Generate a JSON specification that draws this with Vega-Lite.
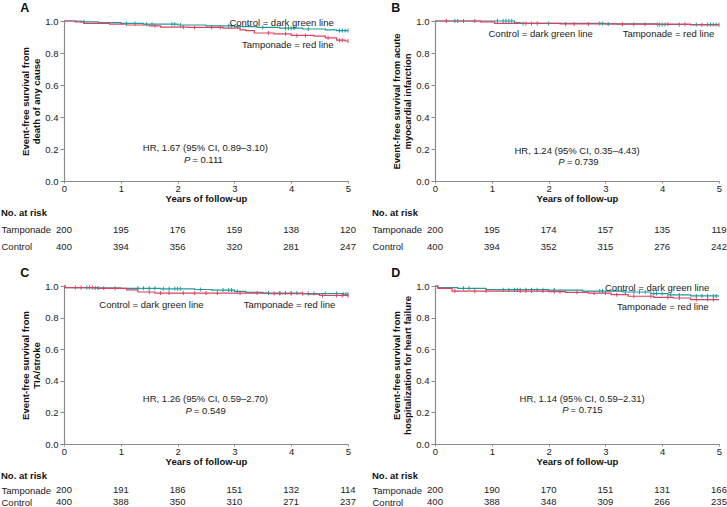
{
"$schema": "https://vega.github.io/schema/vega-lite/v6.json",
"padding": {"left": 1, "top": 2, "right": 0, "bottom": 0},
"columns": 2,
"align": "each",
"spacing": {"row": 4, "column": 16},
"config": {
 "font": "Liberation Sans",
 "view": {"stroke": null},
 "axis": {"grid": false, "domainColor": "#8a8a8a", "tickColor": "#8a8a8a", "labelColor": "#222", "labelFontSize": 9.5, "titleFontSize": 9.5, "titleFontWeight": "bold", "titleColor": "#111", "domainWidth": 1.2, "labelOverlap": false},
 "axisX": {"tickSize": 2, "labelPadding": 0.5, "titlePadding": 0, "labelFlush": false},
 "axisY": {"tickSize": 4, "labelPadding": 2, "titlePadding": 3, "titleLineHeight": 11.5},
 "title": {"anchor": "start", "frame": "bounds", "fontSize": 12.5, "fontWeight": "bold", "color": "#111", "offset": 1.5},
 "text": {"fontSize": 9.5, "color": "#222"}
},
"datasets": {
 "km": [
  {"panel":"A","group":"Control","time":0,"surv":1},{"panel":"A","group":"Control","time":0.3,"surv":0.995},{"panel":"A","group":"Control","time":0.6,"surv":0.99},{"panel":"A","group":"Control","time":1.0,"surv":0.985},{"panel":"A","group":"Control","time":1.4,"surv":0.98},{"panel":"A","group":"Control","time":2.0,"surv":0.975},{"panel":"A","group":"Control","time":2.5,"surv":0.97},{"panel":"A","group":"Control","time":3.0,"surv":0.965},{"panel":"A","group":"Control","time":3.4,"surv":0.96},{"panel":"A","group":"Control","time":3.8,"surv":0.955},{"panel":"A","group":"Control","time":4.2,"surv":0.95},{"panel":"A","group":"Control","time":4.6,"surv":0.945},{"panel":"A","group":"Control","time":4.8,"surv":0.94},{"panel":"A","group":"Control","time":5,"surv":0.94},
  {"panel":"A","group":"Tamponade","time":0,"surv":1},{"panel":"A","group":"Tamponade","time":0.2,"surv":0.995},{"panel":"A","group":"Tamponade","time":0.35,"surv":0.985},{"panel":"A","group":"Tamponade","time":0.8,"surv":0.98},{"panel":"A","group":"Tamponade","time":1.1,"surv":0.975},{"panel":"A","group":"Tamponade","time":1.5,"surv":0.97},{"panel":"A","group":"Tamponade","time":1.7,"surv":0.962},{"panel":"A","group":"Tamponade","time":2.2,"surv":0.96},{"panel":"A","group":"Tamponade","time":2.8,"surv":0.955},{"panel":"A","group":"Tamponade","time":3.1,"surv":0.945},{"panel":"A","group":"Tamponade","time":3.2,"surv":0.94},{"panel":"A","group":"Tamponade","time":3.35,"surv":0.925},{"panel":"A","group":"Tamponade","time":3.7,"surv":0.92},{"panel":"A","group":"Tamponade","time":4.0,"surv":0.91},{"panel":"A","group":"Tamponade","time":4.4,"surv":0.905},{"panel":"A","group":"Tamponade","time":4.6,"surv":0.895},{"panel":"A","group":"Tamponade","time":4.8,"surv":0.88},{"panel":"A","group":"Tamponade","time":4.95,"surv":0.875},{"panel":"A","group":"Tamponade","time":5,"surv":0.875},
  {"panel":"B","group":"Control","time":0,"surv":1},{"panel":"B","group":"Control","time":1.4,"surv":0.99},{"panel":"B","group":"Control","time":1.5,"surv":0.985},{"panel":"B","group":"Control","time":3.0,"surv":0.982},{"panel":"B","group":"Control","time":3.9,"surv":0.978},{"panel":"B","group":"Control","time":5,"surv":0.978},
  {"panel":"B","group":"Tamponade","time":0,"surv":1},{"panel":"B","group":"Tamponade","time":0.8,"surv":0.995},{"panel":"B","group":"Tamponade","time":1.05,"surv":0.985},{"panel":"B","group":"Tamponade","time":2.2,"surv":0.982},{"panel":"B","group":"Tamponade","time":3.2,"surv":0.98},{"panel":"B","group":"Tamponade","time":4.5,"surv":0.976},{"panel":"B","group":"Tamponade","time":5,"surv":0.976},
  {"panel":"C","group":"Control","time":0,"surv":1},{"panel":"C","group":"Control","time":0.02,"surv":0.99},{"panel":"C","group":"Control","time":0.5,"surv":0.988},{"panel":"C","group":"Control","time":1.0,"surv":0.985},{"panel":"C","group":"Control","time":1.7,"surv":0.982},{"panel":"C","group":"Control","time":2.3,"surv":0.978},{"panel":"C","group":"Control","time":2.6,"surv":0.974},{"panel":"C","group":"Control","time":3.0,"surv":0.966},{"panel":"C","group":"Control","time":3.2,"surv":0.96},{"panel":"C","group":"Control","time":3.5,"surv":0.955},{"panel":"C","group":"Control","time":4.2,"surv":0.952},{"panel":"C","group":"Control","time":4.9,"surv":0.948},{"panel":"C","group":"Control","time":5,"surv":0.948},
  {"panel":"C","group":"Tamponade","time":0,"surv":1},{"panel":"C","group":"Tamponade","time":0.02,"surv":0.99},{"panel":"C","group":"Tamponade","time":0.6,"surv":0.985},{"panel":"C","group":"Tamponade","time":1.1,"surv":0.975},{"panel":"C","group":"Tamponade","time":1.3,"surv":0.962},{"panel":"C","group":"Tamponade","time":1.6,"surv":0.955},{"panel":"C","group":"Tamponade","time":3.6,"surv":0.952},{"panel":"C","group":"Tamponade","time":4.3,"surv":0.948},{"panel":"C","group":"Tamponade","time":4.5,"surv":0.94},{"panel":"C","group":"Tamponade","time":5,"surv":0.94},
  {"panel":"D","group":"Control","time":0,"surv":1},{"panel":"D","group":"Control","time":0.05,"surv":0.99},{"panel":"D","group":"Control","time":0.4,"surv":0.985},{"panel":"D","group":"Control","time":0.9,"surv":0.977},{"panel":"D","group":"Control","time":2.0,"surv":0.974},{"panel":"D","group":"Control","time":2.6,"surv":0.968},{"panel":"D","group":"Control","time":3.3,"surv":0.962},{"panel":"D","group":"Control","time":3.8,"surv":0.952},{"panel":"D","group":"Control","time":4.1,"surv":0.944},{"panel":"D","group":"Control","time":4.5,"surv":0.937},{"panel":"D","group":"Control","time":5,"surv":0.937},
  {"panel":"D","group":"Tamponade","time":0,"surv":1},{"panel":"D","group":"Tamponade","time":0.05,"surv":0.985},{"panel":"D","group":"Tamponade","time":0.3,"surv":0.968},{"panel":"D","group":"Tamponade","time":2.0,"surv":0.964},{"panel":"D","group":"Tamponade","time":2.3,"surv":0.96},{"panel":"D","group":"Tamponade","time":2.7,"surv":0.955},{"panel":"D","group":"Tamponade","time":3.1,"surv":0.945},{"panel":"D","group":"Tamponade","time":3.4,"surv":0.935},{"panel":"D","group":"Tamponade","time":3.85,"surv":0.928},{"panel":"D","group":"Tamponade","time":4.2,"surv":0.924},{"panel":"D","group":"Tamponade","time":4.5,"surv":0.914},{"panel":"D","group":"Tamponade","time":5,"surv":0.914}
 ],
 "cens": [
  {"panel":"A","group":"Control","time":0.35,"surv":0.995},{"panel":"A","group":"Control","time":1.1,"surv":0.985},{"panel":"A","group":"Control","time":1.25,"surv":0.985},{"panel":"A","group":"Control","time":1.45,"surv":0.98},{"panel":"A","group":"Control","time":1.55,"surv":0.98},{"panel":"A","group":"Control","time":1.9,"surv":0.98},{"panel":"A","group":"Control","time":1.95,"surv":0.98},{"panel":"A","group":"Control","time":2.05,"surv":0.975},{"panel":"A","group":"Control","time":2.9,"surv":0.97},{"panel":"A","group":"Control","time":2.95,"surv":0.97},{"panel":"A","group":"Control","time":3.05,"surv":0.965},{"panel":"A","group":"Control","time":3.5,"surv":0.96},{"panel":"A","group":"Control","time":3.9,"surv":0.955},{"panel":"A","group":"Control","time":3.95,"surv":0.955},{"panel":"A","group":"Control","time":4.0,"surv":0.955},{"panel":"A","group":"Control","time":4.05,"surv":0.955},{"panel":"A","group":"Control","time":4.3,"surv":0.95},{"panel":"A","group":"Control","time":4.85,"surv":0.94},{"panel":"A","group":"Control","time":4.9,"surv":0.94},{"panel":"A","group":"Control","time":4.95,"surv":0.94},{"panel":"A","group":"Control","time":5.0,"surv":0.94},
  {"panel":"A","group":"Tamponade","time":1.6,"surv":0.97},{"panel":"A","group":"Tamponade","time":2.1,"surv":0.962},{"panel":"A","group":"Tamponade","time":2.3,"surv":0.96},{"panel":"A","group":"Tamponade","time":2.6,"surv":0.96},{"panel":"A","group":"Tamponade","time":2.75,"surv":0.96},{"panel":"A","group":"Tamponade","time":3.6,"surv":0.925},{"panel":"A","group":"Tamponade","time":3.9,"surv":0.92},{"panel":"A","group":"Tamponade","time":4.1,"surv":0.91},{"panel":"A","group":"Tamponade","time":4.25,"surv":0.91},{"panel":"A","group":"Tamponade","time":4.65,"surv":0.895},{"panel":"A","group":"Tamponade","time":4.85,"surv":0.88},{"panel":"A","group":"Tamponade","time":4.9,"surv":0.88},{"panel":"A","group":"Tamponade","time":5.0,"surv":0.875},
  {"panel":"B","group":"Control","time":0.35,"surv":1},{"panel":"B","group":"Control","time":0.4,"surv":1},{"panel":"B","group":"Control","time":1.1,"surv":1},{"panel":"B","group":"Control","time":1.2,"surv":1},{"panel":"B","group":"Control","time":1.25,"surv":1},{"panel":"B","group":"Control","time":1.3,"surv":1},{"panel":"B","group":"Control","time":1.35,"surv":1},{"panel":"B","group":"Control","time":1.55,"surv":0.985},{"panel":"B","group":"Control","time":1.7,"surv":0.985},{"panel":"B","group":"Control","time":2.0,"surv":0.985},{"panel":"B","group":"Control","time":2.9,"surv":0.985},{"panel":"B","group":"Control","time":2.95,"surv":0.985},{"panel":"B","group":"Control","time":3.05,"surv":0.982},{"panel":"B","group":"Control","time":3.92,"surv":0.978},{"panel":"B","group":"Control","time":3.95,"surv":0.978},{"panel":"B","group":"Control","time":4.0,"surv":0.978},{"panel":"B","group":"Control","time":4.05,"surv":0.978},{"panel":"B","group":"Control","time":4.3,"surv":0.978},{"panel":"B","group":"Control","time":4.6,"surv":0.978},{"panel":"B","group":"Control","time":4.8,"surv":0.978},{"panel":"B","group":"Control","time":4.85,"surv":0.978},{"panel":"B","group":"Control","time":4.9,"surv":0.978},{"panel":"B","group":"Control","time":4.95,"surv":0.978},
  {"panel":"B","group":"Tamponade","time":0.2,"surv":1},{"panel":"B","group":"Tamponade","time":0.5,"surv":1},{"panel":"B","group":"Tamponade","time":0.7,"surv":1},{"panel":"B","group":"Tamponade","time":1.6,"surv":0.985},{"panel":"B","group":"Tamponade","time":1.8,"surv":0.985},{"panel":"B","group":"Tamponade","time":2.3,"surv":0.982},{"panel":"B","group":"Tamponade","time":2.45,"surv":0.982},{"panel":"B","group":"Tamponade","time":2.7,"surv":0.982},{"panel":"B","group":"Tamponade","time":3.3,"surv":0.98},{"panel":"B","group":"Tamponade","time":3.5,"surv":0.98},{"panel":"B","group":"Tamponade","time":3.7,"surv":0.98},{"panel":"B","group":"Tamponade","time":4.1,"surv":0.98},{"panel":"B","group":"Tamponade","time":4.4,"surv":0.98},{"panel":"B","group":"Tamponade","time":4.7,"surv":0.976},{"panel":"B","group":"Tamponade","time":5.0,"surv":0.976},
  {"panel":"C","group":"Control","time":0.4,"surv":0.99},{"panel":"C","group":"Control","time":0.45,"surv":0.99},{"panel":"C","group":"Control","time":0.55,"surv":0.988},{"panel":"C","group":"Control","time":0.6,"surv":0.988},{"panel":"C","group":"Control","time":1.3,"surv":0.985},{"panel":"C","group":"Control","time":1.4,"surv":0.985},{"panel":"C","group":"Control","time":1.5,"surv":0.985},{"panel":"C","group":"Control","time":1.6,"surv":0.985},{"panel":"C","group":"Control","time":1.75,"surv":0.982},{"panel":"C","group":"Control","time":1.85,"surv":0.982},{"panel":"C","group":"Control","time":1.95,"surv":0.982},{"panel":"C","group":"Control","time":2.0,"surv":0.982},{"panel":"C","group":"Control","time":2.05,"surv":0.982},{"panel":"C","group":"Control","time":2.4,"surv":0.978},{"panel":"C","group":"Control","time":2.8,"surv":0.974},{"panel":"C","group":"Control","time":2.9,"surv":0.974},{"panel":"C","group":"Control","time":2.95,"surv":0.974},{"panel":"C","group":"Control","time":3.05,"surv":0.966},{"panel":"C","group":"Control","time":3.6,"surv":0.955},{"panel":"C","group":"Control","time":3.8,"surv":0.955},{"panel":"C","group":"Control","time":3.9,"surv":0.955},{"panel":"C","group":"Control","time":4.0,"surv":0.955},{"panel":"C","group":"Control","time":4.1,"surv":0.955},{"panel":"C","group":"Control","time":4.3,"surv":0.952},{"panel":"C","group":"Control","time":4.4,"surv":0.952},{"panel":"C","group":"Control","time":4.6,"surv":0.952},{"panel":"C","group":"Control","time":4.8,"surv":0.952},{"panel":"C","group":"Control","time":4.92,"surv":0.948},{"panel":"C","group":"Control","time":4.96,"surv":0.948},{"panel":"C","group":"Control","time":5.0,"surv":0.948},
  {"panel":"C","group":"Tamponade","time":0.2,"surv":0.99},{"panel":"C","group":"Tamponade","time":0.3,"surv":0.99},{"panel":"C","group":"Tamponade","time":0.5,"surv":0.99},{"panel":"C","group":"Tamponade","time":0.7,"surv":0.985},{"panel":"C","group":"Tamponade","time":0.9,"surv":0.985},{"panel":"C","group":"Tamponade","time":1.5,"surv":0.962},{"panel":"C","group":"Tamponade","time":1.7,"surv":0.955},{"panel":"C","group":"Tamponade","time":1.85,"surv":0.955},{"panel":"C","group":"Tamponade","time":2.1,"surv":0.955},{"panel":"C","group":"Tamponade","time":2.3,"surv":0.955},{"panel":"C","group":"Tamponade","time":2.5,"surv":0.955},{"panel":"C","group":"Tamponade","time":2.7,"surv":0.955},{"panel":"C","group":"Tamponade","time":3.1,"surv":0.955},{"panel":"C","group":"Tamponade","time":3.4,"surv":0.955},{"panel":"C","group":"Tamponade","time":3.7,"surv":0.952},{"panel":"C","group":"Tamponade","time":3.8,"surv":0.952},{"panel":"C","group":"Tamponade","time":4.0,"surv":0.952},{"panel":"C","group":"Tamponade","time":4.2,"surv":0.952},{"panel":"C","group":"Tamponade","time":4.55,"surv":0.94},{"panel":"C","group":"Tamponade","time":4.8,"surv":0.94},{"panel":"C","group":"Tamponade","time":4.9,"surv":0.94},{"panel":"C","group":"Tamponade","time":5.0,"surv":0.94},
  {"panel":"D","group":"Control","time":0.5,"surv":0.985},{"panel":"D","group":"Control","time":0.6,"surv":0.985},{"panel":"D","group":"Control","time":1.2,"surv":0.977},{"panel":"D","group":"Control","time":1.3,"surv":0.977},{"panel":"D","group":"Control","time":1.4,"surv":0.977},{"panel":"D","group":"Control","time":1.45,"surv":0.977},{"panel":"D","group":"Control","time":1.5,"surv":0.977},{"panel":"D","group":"Control","time":1.6,"surv":0.977},{"panel":"D","group":"Control","time":1.7,"surv":0.977},{"panel":"D","group":"Control","time":1.8,"surv":0.977},{"panel":"D","group":"Control","time":1.9,"surv":0.977},{"panel":"D","group":"Control","time":2.1,"surv":0.974},{"panel":"D","group":"Control","time":2.9,"surv":0.968},{"panel":"D","group":"Control","time":2.95,"surv":0.968},{"panel":"D","group":"Control","time":3.35,"surv":0.962},{"panel":"D","group":"Control","time":3.5,"surv":0.962},{"panel":"D","group":"Control","time":3.6,"surv":0.962},{"panel":"D","group":"Control","time":3.7,"surv":0.962},{"panel":"D","group":"Control","time":3.85,"surv":0.952},{"panel":"D","group":"Control","time":3.9,"surv":0.952},{"panel":"D","group":"Control","time":4.0,"surv":0.952},{"panel":"D","group":"Control","time":4.15,"surv":0.944},{"panel":"D","group":"Control","time":4.3,"surv":0.944},{"panel":"D","group":"Control","time":4.6,"surv":0.937},{"panel":"D","group":"Control","time":4.7,"surv":0.937},{"panel":"D","group":"Control","time":4.8,"surv":0.937},{"panel":"D","group":"Control","time":4.9,"surv":0.937},{"panel":"D","group":"Control","time":4.95,"surv":0.937},
  {"panel":"D","group":"Tamponade","time":0.35,"surv":0.968},{"panel":"D","group":"Tamponade","time":0.7,"surv":0.968},{"panel":"D","group":"Tamponade","time":0.9,"surv":0.968},{"panel":"D","group":"Tamponade","time":1.5,"surv":0.968},{"panel":"D","group":"Tamponade","time":1.6,"surv":0.968},{"panel":"D","group":"Tamponade","time":1.7,"surv":0.968},{"panel":"D","group":"Tamponade","time":1.9,"surv":0.968},{"panel":"D","group":"Tamponade","time":2.1,"surv":0.964},{"panel":"D","group":"Tamponade","time":2.2,"surv":0.964},{"panel":"D","group":"Tamponade","time":2.5,"surv":0.96},{"panel":"D","group":"Tamponade","time":2.8,"surv":0.955},{"panel":"D","group":"Tamponade","time":3.0,"surv":0.955},{"panel":"D","group":"Tamponade","time":3.2,"surv":0.945},{"panel":"D","group":"Tamponade","time":3.5,"surv":0.935},{"panel":"D","group":"Tamponade","time":3.8,"surv":0.935},{"panel":"D","group":"Tamponade","time":4.1,"surv":0.928},{"panel":"D","group":"Tamponade","time":4.3,"surv":0.924},{"panel":"D","group":"Tamponade","time":4.6,"surv":0.914},{"panel":"D","group":"Tamponade","time":4.8,"surv":0.914},{"panel":"D","group":"Tamponade","time":4.9,"surv":0.914}
 ],
 "notes": [
  {"panel":"A","time":3.83,"surv":0.99,"text":"Control = dark green line"},{"panel":"A","time":3.94,"surv":0.849,"text":"Tamponade = red line"},{"panel":"A","time":2.49,"surv":0.205,"text":"HR, 1.67 (95% CI, 0.89–3.10)"},
  {"panel":"B","time":1.86,"surv":0.92,"text":"Control = dark green line"},{"panel":"B","time":4.11,"surv":0.92,"text":"Tamponade = red line"},{"panel":"B","time":2.5,"surv":0.188,"text":"HR, 1.24 (95% CI, 0.35–4.43)"},
  {"panel":"C","time":1.54,"surv":0.88,"text":"Control = dark green line"},{"panel":"C","time":3.97,"surv":0.88,"text":"Tamponade = red line"},{"panel":"C","time":2.49,"surv":0.284,"text":"HR, 1.26 (95% CI, 0.59–2.70)"},
  {"panel":"D","time":3.91,"surv":0.99,"text":"Control = dark green line"},{"panel":"D","time":4.01,"surv":0.869,"text":"Tamponade = red line"},{"panel":"D","time":2.59,"surv":0.284,"text":"HR, 1.14 (95% CI, 0.59–2.31)"}
 ],
 "pv": [
  {"panel":"A","time":2.24,"surv":0.132,"text":"= 0.111"},{"panel":"B","time":2.30,"surv":0.119,"text":"= 0.739"},{"panel":"C","time":2.27,"surv":0.208,"text":"= 0.549"},{"panel":"D","time":2.37,"surv":0.215,"text":"= 0.715"}
 ],
 "risk": [
  {"panel":"A","group":"Tamponade","time":0,"n":200},{"panel":"A","group":"Tamponade","time":1,"n":195},{"panel":"A","group":"Tamponade","time":2,"n":176},{"panel":"A","group":"Tamponade","time":3,"n":159},{"panel":"A","group":"Tamponade","time":4,"n":138},{"panel":"A","group":"Tamponade","time":5,"n":120},
  {"panel":"A","group":"Control","time":0,"n":400},{"panel":"A","group":"Control","time":1,"n":394},{"panel":"A","group":"Control","time":2,"n":356},{"panel":"A","group":"Control","time":3,"n":320},{"panel":"A","group":"Control","time":4,"n":281},{"panel":"A","group":"Control","time":5,"n":247},
  {"panel":"B","group":"Tamponade","time":0,"n":200},{"panel":"B","group":"Tamponade","time":1,"n":195},{"panel":"B","group":"Tamponade","time":2,"n":174},{"panel":"B","group":"Tamponade","time":3,"n":157},{"panel":"B","group":"Tamponade","time":4,"n":135},{"panel":"B","group":"Tamponade","time":5,"n":119},
  {"panel":"B","group":"Control","time":0,"n":400},{"panel":"B","group":"Control","time":1,"n":394},{"panel":"B","group":"Control","time":2,"n":352},{"panel":"B","group":"Control","time":3,"n":315},{"panel":"B","group":"Control","time":4,"n":276},{"panel":"B","group":"Control","time":5,"n":242},
  {"panel":"C","group":"Tamponade","time":0,"n":200},{"panel":"C","group":"Tamponade","time":1,"n":191},{"panel":"C","group":"Tamponade","time":2,"n":186},{"panel":"C","group":"Tamponade","time":3,"n":151},{"panel":"C","group":"Tamponade","time":4,"n":132},{"panel":"C","group":"Tamponade","time":5,"n":114},
  {"panel":"C","group":"Control","time":0,"n":400},{"panel":"C","group":"Control","time":1,"n":388},{"panel":"C","group":"Control","time":2,"n":350},{"panel":"C","group":"Control","time":3,"n":310},{"panel":"C","group":"Control","time":4,"n":271},{"panel":"C","group":"Control","time":5,"n":237},
  {"panel":"D","group":"Tamponade","time":0,"n":200},{"panel":"D","group":"Tamponade","time":1,"n":190},{"panel":"D","group":"Tamponade","time":2,"n":170},{"panel":"D","group":"Tamponade","time":3,"n":151},{"panel":"D","group":"Tamponade","time":4,"n":131},{"panel":"D","group":"Tamponade","time":5,"n":166},
  {"panel":"D","group":"Control","time":0,"n":400},{"panel":"D","group":"Control","time":1,"n":388},{"panel":"D","group":"Control","time":2,"n":348},{"panel":"D","group":"Control","time":3,"n":309},{"panel":"D","group":"Control","time":4,"n":266},{"panel":"D","group":"Control","time":5,"n":235}
 ]
},
"concat": [
 {"title": {"text": "A"}, "width": 284, "height": 160,
  "layer": [
   {"data": {"name": "km"}, "transform": [{"filter": "datum.panel === 'A'"}], "mark": {"type": "line", "interpolate": "step-after", "strokeWidth": 1.2},
    "encoding": {"x": {"field": "time", "type": "quantitative", "scale": {"domain": [0, 5]}, "axis": {"values": [0,1,2,3,4,5], "tickCount": 10, "format": "d", "title": "Years of follow-up", "labelOverlap": false}},
     "y": {"field": "surv", "type": "quantitative", "scale": {"domain": [0, 1]}, "axis": {"values": [0,0.2,0.4,0.6,0.8,1], "tickCount": 10, "format": ".1f", "labelOverlap": false, "title": ["Event-free survival from", "death of any cause"]}},
     "color": {"field": "group", "type": "nominal", "scale": {"domain": ["Control", "Tamponade"], "range": ["#1f9b9b", "#e0405f"]}, "legend": null}}},
   {"data": {"name": "cens"}, "transform": [{"filter": "datum.panel === 'A'"}], "mark": {"type": "tick", "orient": "vertical", "size": 4, "thickness": 1, "opacity": 1},
    "encoding": {"x": {"field": "time", "type": "quantitative"}, "y": {"field": "surv", "type": "quantitative"}, "color": {"field": "group", "type": "nominal"}}},
   {"data": {"name": "notes"}, "transform": [{"filter": "datum.panel === 'A'"}], "mark": {"type": "text"},
    "encoding": {"x": {"field": "time", "type": "quantitative"}, "y": {"field": "surv", "type": "quantitative"}, "text": {"field": "text"}}},
   {"data": {"name": "pv"}, "transform": [{"filter": "datum.panel === 'A'"}], "mark": {"type": "text", "text": "P", "fontStyle": "italic", "align": "right", "dx": -1},
    "encoding": {"x": {"field": "time", "type": "quantitative"}, "y": {"field": "surv", "type": "quantitative"}}},
   {"data": {"name": "pv"}, "transform": [{"filter": "datum.panel === 'A'"}], "mark": {"type": "text", "align": "left", "dx": 1},
    "encoding": {"x": {"field": "time", "type": "quantitative"}, "y": {"field": "surv", "type": "quantitative"}, "text": {"field": "text"}}}
  ]},
 {"title": {"text": "B"}, "width": 284, "height": 160,
  "layer": [
   {"data": {"name": "km"}, "transform": [{"filter": "datum.panel === 'B'"}], "mark": {"type": "line", "interpolate": "step-after", "strokeWidth": 1.2},
    "encoding": {"x": {"field": "time", "type": "quantitative", "scale": {"domain": [0, 5]}, "axis": {"values": [0,1,2,3,4,5], "tickCount": 10, "format": "d", "title": "Years of follow-up", "labelOverlap": false}},
     "y": {"field": "surv", "type": "quantitative", "scale": {"domain": [0, 1]}, "axis": {"values": [0,0.2,0.4,0.6,0.8,1], "tickCount": 10, "format": ".1f", "labelOverlap": false, "title": ["Event-free survival from acute", "myocardial infarction"]}},
     "color": {"field": "group", "type": "nominal", "scale": {"domain": ["Control", "Tamponade"], "range": ["#1f9b9b", "#e0405f"]}, "legend": null}}},
   {"data": {"name": "cens"}, "transform": [{"filter": "datum.panel === 'B'"}], "mark": {"type": "tick", "orient": "vertical", "size": 4, "thickness": 1, "opacity": 1},
    "encoding": {"x": {"field": "time", "type": "quantitative"}, "y": {"field": "surv", "type": "quantitative"}, "color": {"field": "group", "type": "nominal"}}},
   {"data": {"name": "notes"}, "transform": [{"filter": "datum.panel === 'B'"}], "mark": {"type": "text"},
    "encoding": {"x": {"field": "time", "type": "quantitative"}, "y": {"field": "surv", "type": "quantitative"}, "text": {"field": "text"}}},
   {"data": {"name": "pv"}, "transform": [{"filter": "datum.panel === 'B'"}], "mark": {"type": "text", "text": "P", "fontStyle": "italic", "align": "right", "dx": -1},
    "encoding": {"x": {"field": "time", "type": "quantitative"}, "y": {"field": "surv", "type": "quantitative"}}},
   {"data": {"name": "pv"}, "transform": [{"filter": "datum.panel === 'B'"}], "mark": {"type": "text", "align": "left", "dx": 1},
    "encoding": {"x": {"field": "time", "type": "quantitative"}, "y": {"field": "surv", "type": "quantitative"}, "text": {"field": "text"}}}
  ]},
 {"title": {"text": "No. at risk", "fontSize": 9.5, "offset": 2}, "width": 284, "height": 43.75,
  "data": {"name": "risk"}, "transform": [{"filter": "datum.panel === 'A'"}], "mark": {"type": "text"},
  "encoding": {"x": {"field": "time", "type": "quantitative", "scale": {"domain": [0, 5]}, "axis": null},
   "y": {"field": "group", "type": "nominal", "scale": {"type": "point", "domain": ["Tamponade", "Control"], "padding": 0.81, "align": 0.4}, "axis": {"title": null, "domain": false, "ticks": false, "labelAlign": "left", "labelPadding": 63, "labelFontSize": 9.5}},
   "text": {"field": "n", "type": "quantitative"}}},
 {"title": {"text": "No. at risk", "fontSize": 9.5, "offset": 2}, "width": 284, "height": 43.75,
  "data": {"name": "risk"}, "transform": [{"filter": "datum.panel === 'B'"}], "mark": {"type": "text"},
  "encoding": {"x": {"field": "time", "type": "quantitative", "scale": {"domain": [0, 5]}, "axis": null},
   "y": {"field": "group", "type": "nominal", "scale": {"type": "point", "domain": ["Tamponade", "Control"], "padding": 0.81, "align": 0.4}, "axis": {"title": null, "domain": false, "ticks": false, "labelAlign": "left", "labelPadding": 63, "labelFontSize": 9.5}},
   "text": {"field": "n", "type": "quantitative"}}},
 {"title": {"text": "C"}, "width": 284, "height": 158,
  "layer": [
   {"data": {"name": "km"}, "transform": [{"filter": "datum.panel === 'C'"}], "mark": {"type": "line", "interpolate": "step-after", "strokeWidth": 1.2},
    "encoding": {"x": {"field": "time", "type": "quantitative", "scale": {"domain": [0, 5]}, "axis": {"values": [0,1,2,3,4,5], "tickCount": 10, "format": "d", "title": "Years of follow-up", "labelOverlap": false}},
     "y": {"field": "surv", "type": "quantitative", "scale": {"domain": [0, 1]}, "axis": {"values": [0,0.2,0.4,0.6,0.8,1], "tickCount": 10, "format": ".1f", "labelOverlap": false, "title": ["Event-free survival from", "TIA/stroke"]}},
     "color": {"field": "group", "type": "nominal", "scale": {"domain": ["Control", "Tamponade"], "range": ["#1f9b9b", "#e0405f"]}, "legend": null}}},
   {"data": {"name": "cens"}, "transform": [{"filter": "datum.panel === 'C'"}], "mark": {"type": "tick", "orient": "vertical", "size": 4, "thickness": 1, "opacity": 1},
    "encoding": {"x": {"field": "time", "type": "quantitative"}, "y": {"field": "surv", "type": "quantitative"}, "color": {"field": "group", "type": "nominal"}}},
   {"data": {"name": "notes"}, "transform": [{"filter": "datum.panel === 'C'"}], "mark": {"type": "text"},
    "encoding": {"x": {"field": "time", "type": "quantitative"}, "y": {"field": "surv", "type": "quantitative"}, "text": {"field": "text"}}},
   {"data": {"name": "pv"}, "transform": [{"filter": "datum.panel === 'C'"}], "mark": {"type": "text", "text": "P", "fontStyle": "italic", "align": "right", "dx": -1},
    "encoding": {"x": {"field": "time", "type": "quantitative"}, "y": {"field": "surv", "type": "quantitative"}}},
   {"data": {"name": "pv"}, "transform": [{"filter": "datum.panel === 'C'"}], "mark": {"type": "text", "align": "left", "dx": 1},
    "encoding": {"x": {"field": "time", "type": "quantitative"}, "y": {"field": "surv", "type": "quantitative"}, "text": {"field": "text"}}}
  ]},
 {"title": {"text": "D"}, "width": 284, "height": 158,
  "layer": [
   {"data": {"name": "km"}, "transform": [{"filter": "datum.panel === 'D'"}], "mark": {"type": "line", "interpolate": "step-after", "strokeWidth": 1.2},
    "encoding": {"x": {"field": "time", "type": "quantitative", "scale": {"domain": [0, 5]}, "axis": {"values": [0,1,2,3,4,5], "tickCount": 10, "format": "d", "title": "Years of follow-up", "labelOverlap": false}},
     "y": {"field": "surv", "type": "quantitative", "scale": {"domain": [0, 1]}, "axis": {"values": [0,0.2,0.4,0.6,0.8,1], "tickCount": 10, "format": ".1f", "labelOverlap": false, "title": ["Event-free survival from", "hospitalization for heart failure"]}},
     "color": {"field": "group", "type": "nominal", "scale": {"domain": ["Control", "Tamponade"], "range": ["#1f9b9b", "#e0405f"]}, "legend": null}}},
   {"data": {"name": "cens"}, "transform": [{"filter": "datum.panel === 'D'"}], "mark": {"type": "tick", "orient": "vertical", "size": 4, "thickness": 1, "opacity": 1},
    "encoding": {"x": {"field": "time", "type": "quantitative"}, "y": {"field": "surv", "type": "quantitative"}, "color": {"field": "group", "type": "nominal"}}},
   {"data": {"name": "notes"}, "transform": [{"filter": "datum.panel === 'D'"}], "mark": {"type": "text"},
    "encoding": {"x": {"field": "time", "type": "quantitative"}, "y": {"field": "surv", "type": "quantitative"}, "text": {"field": "text"}}},
   {"data": {"name": "pv"}, "transform": [{"filter": "datum.panel === 'D'"}], "mark": {"type": "text", "text": "P", "fontStyle": "italic", "align": "right", "dx": -1},
    "encoding": {"x": {"field": "time", "type": "quantitative"}, "y": {"field": "surv", "type": "quantitative"}}},
   {"data": {"name": "pv"}, "transform": [{"filter": "datum.panel === 'D'"}], "mark": {"type": "text", "align": "left", "dx": 1},
    "encoding": {"x": {"field": "time", "type": "quantitative"}, "y": {"field": "surv", "type": "quantitative"}, "text": {"field": "text"}}}
  ]},
 {"title": {"text": "No. at risk", "fontSize": 9.5, "offset": 2}, "width": 284, "height": 24,
  "data": {"name": "risk"}, "transform": [{"filter": "datum.panel === 'C'"}], "mark": {"type": "text"},
  "encoding": {"x": {"field": "time", "type": "quantitative", "scale": {"domain": [0, 5]}, "axis": null},
   "y": {"field": "group", "type": "nominal", "scale": {"type": "point", "domain": ["Tamponade", "Control"], "padding": 0.5, "align": 0.667}, "axis": {"title": null, "domain": false, "ticks": false, "labelAlign": "left", "labelPadding": 63, "labelFontSize": 9.5}},
   "text": {"field": "n", "type": "quantitative"}}},
 {"title": {"text": "No. at risk", "fontSize": 9.5, "offset": 2}, "width": 284, "height": 24,
  "data": {"name": "risk"}, "transform": [{"filter": "datum.panel === 'D'"}], "mark": {"type": "text"},
  "encoding": {"x": {"field": "time", "type": "quantitative", "scale": {"domain": [0, 5]}, "axis": null},
   "y": {"field": "group", "type": "nominal", "scale": {"type": "point", "domain": ["Tamponade", "Control"], "padding": 0.5, "align": 0.667}, "axis": {"title": null, "domain": false, "ticks": false, "labelAlign": "left", "labelPadding": 63, "labelFontSize": 9.5}},
   "text": {"field": "n", "type": "quantitative"}}}
]
}
